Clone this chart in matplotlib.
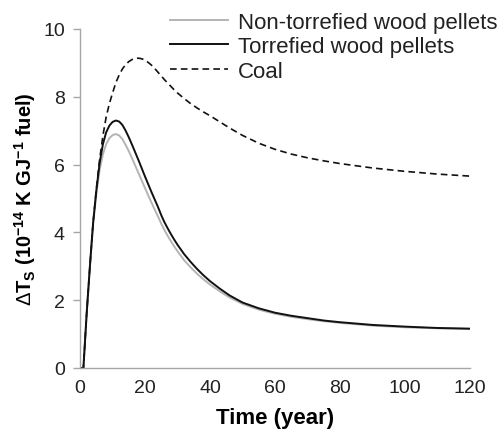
import matplotlib
matplotlib.use("Agg")
import matplotlib.pyplot as plt

plt.rcParams["font.family"] = ["Liberation Sans", "DejaVu Sans"]
plt.rcParams["mathtext.fontset"] = "custom"
plt.rcParams["mathtext.rm"] = "Liberation Sans"
plt.rcParams["mathtext.bf"] = "Liberation Sans:bold"
plt.rcParams["mathtext.it"] = "Liberation Sans:italic"

# 读图估计的数据（年份, ΔTs）
years = list(range(0, 31)) + [32, 34, 36, 38, 40, 43, 46, 50, 55, 60, 65, 70, 75,
                              80, 90, 100, 110, 120]

non_torrefied = [0, 0, 1.6, 3.0, 4.25, 5.15, 5.85, 6.3, 6.6, 6.78, 6.87, 6.9, 6.86,
                 6.75, 6.58, 6.39, 6.18, 5.96, 5.74, 5.52, 5.3, 5.08, 4.87, 4.66, 4.46,
                 4.25, 4.06, 3.89, 3.73, 3.58, 3.44,
                 3.18, 2.97, 2.78, 2.61, 2.46, 2.26, 2.08, 1.89, 1.72, 1.6, 1.51, 1.44,
                 1.38, 1.33, 1.25, 1.2, 1.17, 1.15]

torrefied = [0, 0, 1.6, 3.0, 4.3, 5.25, 6.05, 6.6, 6.95, 7.15, 7.26, 7.3, 7.27, 7.17,
             7.0, 6.8, 6.58, 6.35, 6.12, 5.88, 5.64, 5.41, 5.18, 4.96, 4.74, 4.5, 4.29,
             4.11, 3.94, 3.78, 3.63,
             3.36, 3.13, 2.92, 2.73, 2.56, 2.34, 2.14, 1.93, 1.76, 1.63, 1.54, 1.47,
             1.4, 1.35, 1.27, 1.22, 1.18, 1.16]

coal = [0, 0, 1.6, 3.0, 4.3, 5.3, 6.15, 6.85, 7.4, 7.8, 8.12, 8.42, 8.64, 8.82, 8.95,
        9.04, 9.1, 9.13, 9.14, 9.12, 9.08, 9.01, 8.93, 8.83, 8.72, 8.61, 8.5, 8.4,
        8.3, 8.2, 8.11,
        7.95, 7.8, 7.67, 7.55, 7.44, 7.26, 7.08, 6.86, 6.63, 6.45, 6.31, 6.2, 6.11,
        6.03, 5.9, 5.8, 5.72, 5.66]

labels = ["Non-torrefied wood pellets", "Torrefied wood pellets", "Coal"]

fig = plt.figure(figsize=(5.01, 4.31), dpi=100)
ax = fig.add_axes([0.16, 0.1439, 0.778, 0.7865])

ax.plot(years, non_torrefied, color="#b4b4b4", linewidth=1.4, label=labels[0])
ax.plot(years, torrefied, color="#111111", linewidth=1.4, label=labels[1])
ax.plot(years, coal, color="#111111", linewidth=1.2, linestyle=(0, (4, 2.5)), label=labels[2])

ax.set_xlim(0, 120)
ax.set_ylim(0, 10)
ax.set_xticks([0, 20, 40, 60, 80, 100, 120])
ax.set_yticks([0, 2, 4, 6, 8, 10])

for side in ["top", "right"]:
    ax.spines[side].set_visible(False)
for side in ["left", "bottom"]:
    ax.spines[side].set_color("#a6a6a6")
    ax.spines[side].set_linewidth(1.0)

ax.tick_params(axis="y", length=5, width=1.0, color="#a6a6a6", pad=6, labelsize=14, labelcolor="#222222")
ax.tick_params(axis="x", length=0, pad=8, labelsize=14, labelcolor="#222222")

ax.set_xlabel("Time (year)", fontsize=16, fontweight="bold", labelpad=8)
ax.set_ylabel(r"$\Delta\mathbf{T_S}$" + " " + r"$\mathbf{(10^{-14}\ K\ GJ^{-1}\ fuel)}$",
              fontsize=14.5, labelpad=4)

fig.legend(loc="upper left", bbox_to_anchor=(0.339, 0.970), frameon=False,
           fontsize=16, handlelength=2.6, handletextpad=0.45, labelspacing=0.15,
           borderpad=0, borderaxespad=0, labelcolor="#222222")

fig.savefig("out.png", dpi=100)
